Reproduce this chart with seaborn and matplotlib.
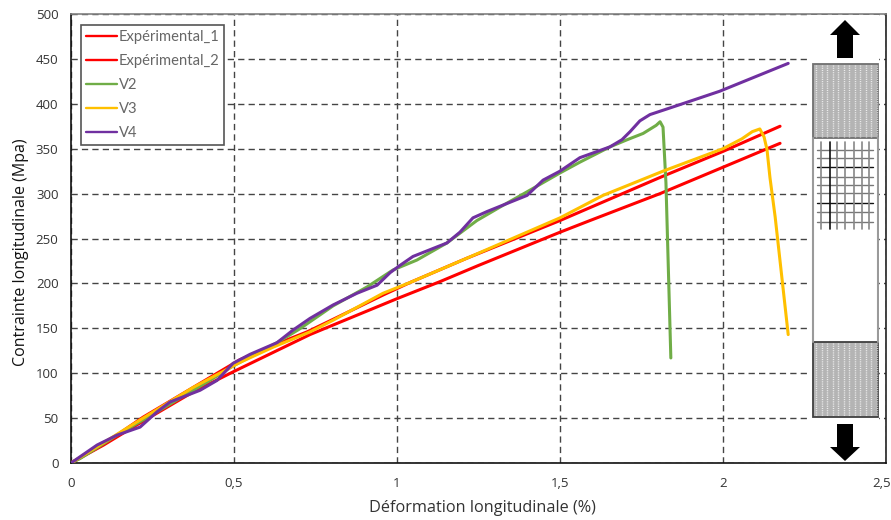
import matplotlib
matplotlib.use("Agg")
import matplotlib.pyplot as plt
import matplotlib.transforms as mtrans
import numpy as np
import pandas as pd
import seaborn as sns
from matplotlib.patches import Rectangle, Polygon

W, H = 891, 520

exp1_x = [0, 0.1, 0.2, 0.374, 0.5, 0.733, 1.0, 1.132, 1.25, 1.5, 1.592, 1.807, 2.175]
exp1_y = [0, 20, 42, 79, 102, 143, 183, 202, 220, 257, 270, 300, 356]

exp2_x = [0, 0.1, 0.221, 0.374, 0.518, 0.62, 0.724, 0.804, 0.957, 1.04, 1.214, 1.5, 1.807, 2.0, 2.175]
exp2_y = [0, 21, 51, 84, 115, 131, 146, 160, 187, 201, 228, 270, 318, 347, 375]

v2_x = [0, 0.028, 0.141, 0.264, 0.426, 0.497, 0.632, 0.70, 0.804, 0.908, 0.988, 1.061, 1.153, 1.245, 1.316, 1.399, 1.5, 1.561, 1.653, 1.706, 1.755, 1.795, 1.807, 1.816, 1.825, 1.828, 1.84]
v2_y = [0, 5, 31, 57, 92, 108, 134, 149, 175, 196, 215, 226, 245, 270, 285, 302, 323, 335, 352, 360, 367, 376, 380, 374, 312, 273, 117]

v3_x = [0, 0.221, 0.374, 0.518, 0.62, 0.733, 0.804, 0.957, 1.04, 1.214, 1.5, 1.632, 1.816, 2.0, 2.058, 2.09, 2.113, 2.126, 2.135, 2.144, 2.16, 2.2]
v3_y = [0, 50, 84, 112, 129, 146, 159, 189, 201, 228, 273, 298, 325, 350, 361, 369, 372, 363, 349, 318, 274, 143]

v4_x = [0, 0.04, 0.08, 0.141, 0.212, 0.264, 0.304, 0.396, 0.448, 0.497, 0.549, 0.632, 0.681, 0.733, 0.804, 0.877, 0.939, 0.979, 1.009, 1.049, 1.153, 1.193, 1.233, 1.276, 1.399, 1.448, 1.5, 1.561, 1.653, 1.69, 1.715, 1.745, 1.776, 1.859, 1.99, 2.2]
v4_y = [0, 10, 20, 31, 40, 57, 68, 81, 92, 111, 121, 134, 148, 161, 176, 189, 198, 212, 220, 230, 245, 257, 273, 280, 298, 315, 325, 340, 352, 360, 369, 381, 388, 398, 414, 445]

names = ["Expérimental_1", "Expérimental_2", "V2", "V3", "V4"]
colors = ["#ff0000", "#ff0000", "#70ad47", "#ffc000", "#7030a0"]
xs = [exp1_x, exp2_x, v2_x, v3_x, v4_x]
ys = [exp1_y, exp2_y, v2_y, v3_y, v4_y]

x_ticks = [0, 0.5, 1, 1.5, 2, 2.5]
x_labels = ["0", "0,5", "1", "1,5", "2", "2,5"]
y_ticks = [0, 50, 100, 150, 200, 250, 300, 350, 400, 450, 500]


def draw_specimen(fig):
    # inset in pixel coords, hides the grid behind the sample
    ax = fig.add_axes([810 / W, 1 - 462 / H, 69 / W, 447 / H])
    ax.set_xlim(810, 879)
    ax.set_ylim(462, 15)
    ax.axis("off")
    ax.add_patch(Rectangle((0, 0), 1, 1, transform=ax.transAxes, fc="white", ec="none"))

    for top, bot, edge in [(64, 138, "#707070"), (342, 417, "#404040")]:
        ax.add_patch(Rectangle((813, top), 65, bot - top, fc="#b4b4b4", ec="none"))
        for vx in np.arange(816, 878, 5.5):
            ax.plot([vx, vx], [top + 1, bot - 1], color="white", lw=1, ls=(0, (0.8, 0.8)), alpha=0.75)
        ax.add_patch(Rectangle((813, top), 65, bot - top, fc="none", ec=edge, lw=1.3))

    ax.plot([813, 813], [138, 342], color="#9a9a9a", lw=1.5)
    ax.plot([878, 878], [138, 342], color="#9a9a9a", lw=1.5)

    for gy in [150, 158, 167, 177, 185, 193, 203, 212, 222]:
        ax.plot([817, 873], [gy, gy], color="#111111" if gy in (167, 203) else "#777777", lw=1.0)
    for gx in [821, 830, 837, 845, 854, 862, 869]:
        ax.plot([gx, gx], [142, 229], color="#111111" if gx == 830 else "#888888", lw=1.2)

    ax.add_patch(Polygon([(845, 20), (860, 35), (853, 35), (853, 58), (837, 58), (837, 35), (830, 35)], fc="black", ec="none"))
    ax.add_patch(Polygon([(845, 461), (860, 447), (853, 447), (853, 424), (837, 424), (837, 447), (830, 447)], fc="black", ec="none"))


def main():
    sns.set_theme(style="white")
    plt.rcParams["font.family"] = ["Open Sans", "DejaVu Sans"]

    df = pd.concat(
        [pd.DataFrame({"x": x, "y": y, "serie": n}) for x, y, n in zip(xs, ys, names)],
        ignore_index=True,
    )

    fig = plt.figure(figsize=(W / 100, H / 100), dpi=100, facecolor="white")
    ax = fig.add_axes([71 / W, 1 - 463 / H, 815 / W, 449 / H])

    sns.lineplot(
        data=df, x="x", y="y", hue="serie", hue_order=names, palette=colors,
        estimator=None, sort=False, lw=2.2, ax=ax, zorder=3,
        solid_joinstyle="round",
    )

    ax.set_xlim(0, 2.5)
    ax.set_ylim(0, 500)
    ax.set_xticks(x_ticks, x_labels)
    ax.set_yticks(y_ticks)
    ax.tick_params(axis="x", length=0, labelsize=9.5, labelcolor="#333333", pad=10)
    ax.tick_params(axis="y", length=0, labelsize=9.5, labelcolor="#333333", pad=9)
    ax.grid(True, color="#444444", lw=1, ls=(0, (4.5, 3)))
    ax.set_axisbelow(True)
    ax.set_xlabel("Déformation longitudinale (%)", fontsize=11.7, color="#333333", labelpad=7, x=0.505)
    ax.set_ylabel("Contrainte longitudinale (Mpa)", fontsize=11.5, color="#111111", labelpad=5, y=0.47)

    # last tick label sits against the image edge
    last = ax.get_xticklabels()[-1]
    last.set_transform(last.get_transform() + mtrans.ScaledTranslation(-3 / 72, 0, fig.dpi_scale_trans))

    for side, col in [("left", "#111111"), ("bottom", "#111111"), ("right", "#222222"), ("top", "#808080")]:
        ax.spines[side].set_visible(True)
        ax.spines[side].set_color(col)
        ax.spines[side].set_linewidth(1.2)

    leg = ax.legend(
        title=None, loc="upper left", bbox_to_anchor=(10 / 815, 1 - 11 / 449),
        borderaxespad=0, frameon=True, fancybox=False, framealpha=1, edgecolor="#555555",
        prop={"family": ["Lato", "DejaVu Sans"], "size": 10.6},
        labelspacing=0.68, handlelength=2.1, handletextpad=0.1,
        borderpad=0.35, labelcolor="#666666",
    )
    leg.get_frame().set_linewidth(1.2)
    leg.set_zorder(5)
    for line in leg.get_lines():
        line.set_linewidth(1.7)

    draw_specimen(fig)
    fig.savefig("out.png", dpi=100)


if __name__ == "__main__":
    main()
